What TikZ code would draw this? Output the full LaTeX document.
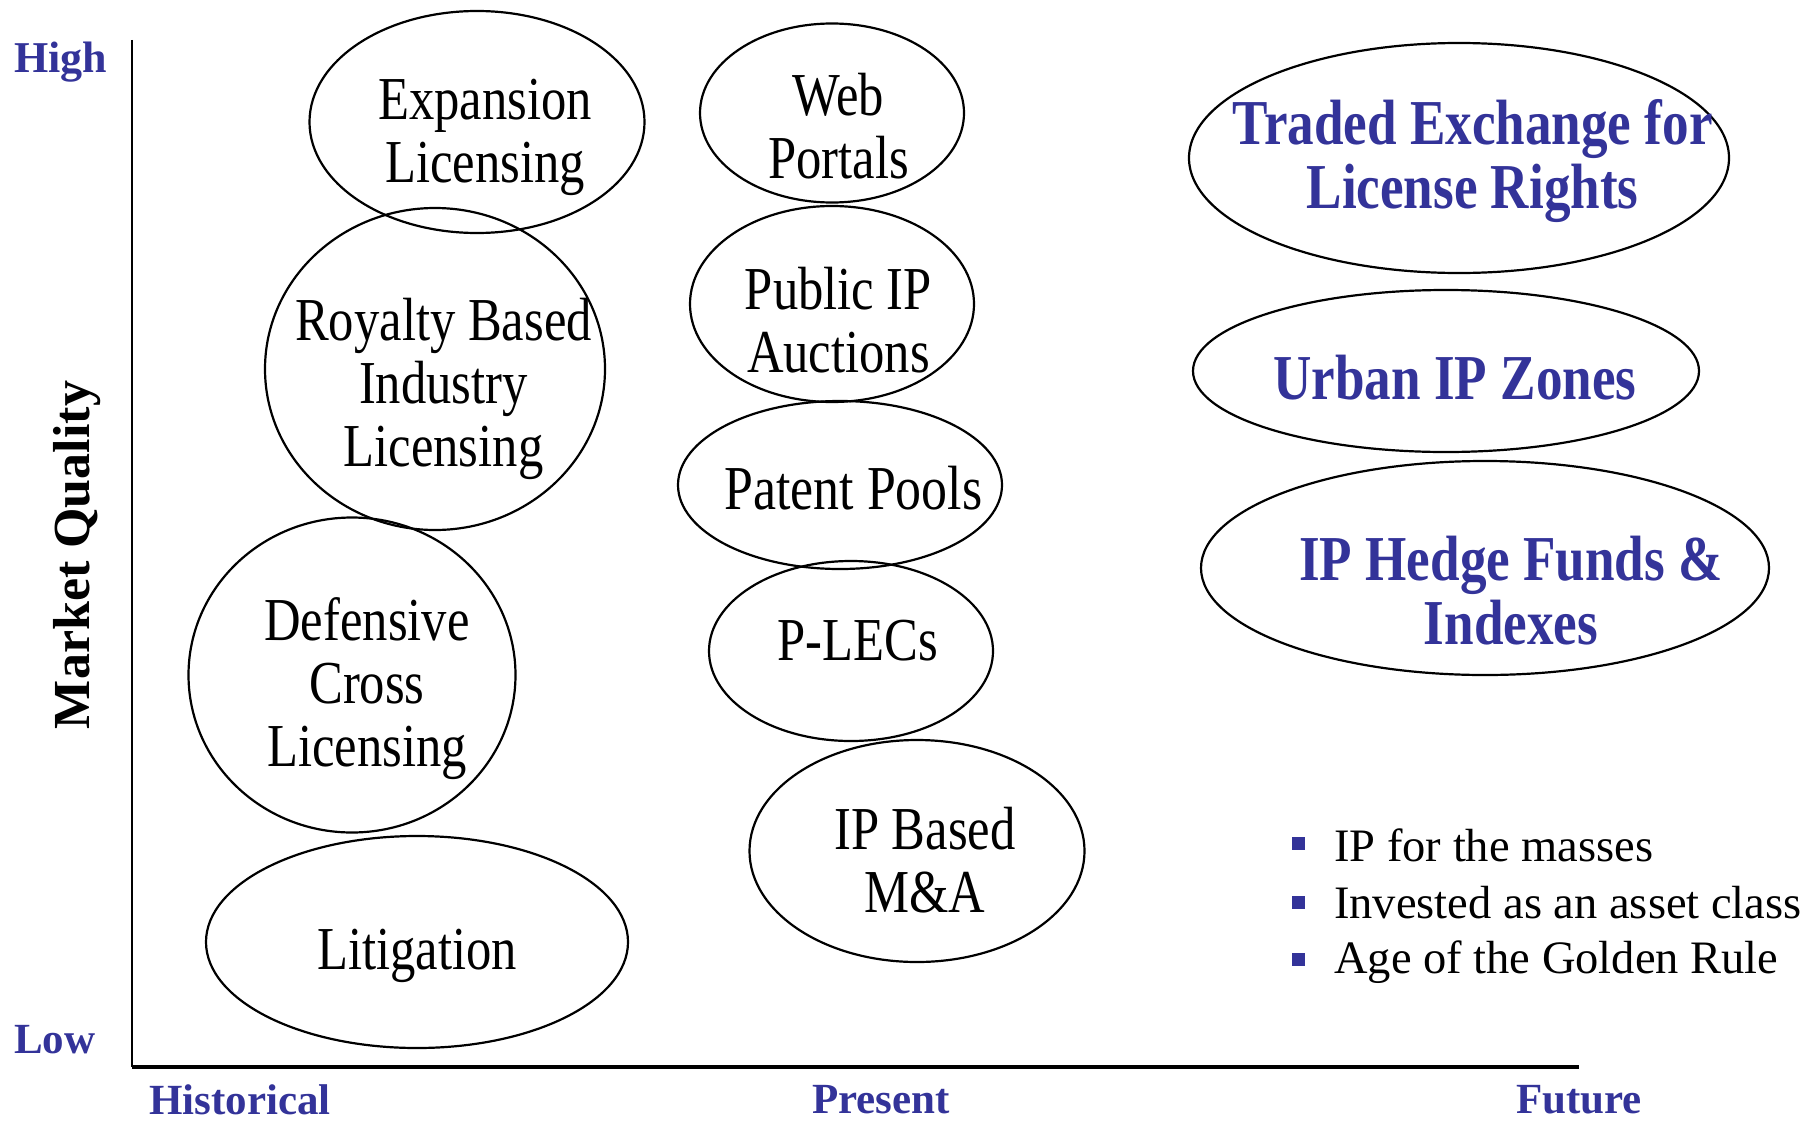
\documentclass[tikz,border=0pt]{standalone}
\usepackage{fontspec}
\setmainfont{Liberation Serif}
\newfontfamily\ellfont{Liberation Serif}[FakeStretch=0.83]
\usetikzlibrary{shapes.geometric}
\definecolor{iblue}{RGB}{51,51,153}
\tikzset{
  ell/.style={draw, ellipse, line width=2.2pt, inner sep=0pt},
  lab/.style={align=center, inner sep=0pt, font=\ellfont\fontsize{61}{63}\selectfont},
  blab/.style={align=center, inner sep=0pt, text=iblue, font=\ellfont\bfseries\fontsize{64}{64}\selectfont},
  axlab/.style={inner sep=0pt, text=iblue, font=\bfseries\fontsize{43}{43}\selectfont},
  bsq/.style={fill=iblue, minimum size=13pt, inner sep=0pt},
  btxt/.style={anchor=west, inner sep=0pt, font=\fontsize{46.5}{46.5}\selectfont}
}
\begin{document}
\begin{tikzpicture}[x=1pt,y=-1pt]
\useasboundingbox (0,0) rectangle (1811,1124);
% axes
\coordinate (otop) at (131.7,40);
\coordinate (orig) at (131.7,1067);
\coordinate (xend) at (1579,1067);
\draw[line width=2pt] (otop) -- (orig);
\draw[line width=3.5pt] (orig) -- (xend);
% axis labels
\node[axlab, anchor=west, font=\bfseries\fontsize{44}{44}\selectfont] (high) at (14,62) {High};
\node[axlab, anchor=west] (low) at (14,1040) {Low};
\node[axlab] (hist) at (240,1100) {Historical};
\node[axlab] (pres) at (881,1100) {Present};
\node[axlab] (fut) at (1579,1100) {Future};
\node[inner sep=0pt, rotate=90, font=\bfseries\fontsize{52}{52}\selectfont] (mq) at (77,555) {Market Quality};
% ellipses
\node[ell, minimum width=335pt, minimum height=222pt] (e1) at (477,122) {};
\node[ell, minimum width=340pt, minimum height=322pt] (e2) at (435,369) {};
\node[ell, minimum width=327pt, minimum height=315pt] (e3) at (352,675) {};
\node[ell, minimum width=422pt, minimum height=212pt] (e4) at (417,942) {};
\node[ell, minimum width=264pt, minimum height=179pt] (e5) at (832,113) {};
\node[ell, minimum width=284pt, minimum height=196pt] (e6) at (832,304) {};
\node[ell, minimum width=324pt, minimum height=168pt] (e7) at (840,485) {};
\node[ell, minimum width=284pt, minimum height=180pt] (e8) at (851,651) {};
\node[ell, minimum width=335pt, minimum height=222pt] (e9) at (917,851) {};
\node[ell, minimum width=540pt, minimum height=230pt] (e10) at (1459,158) {};
\node[ell, minimum width=506pt, minimum height=162pt] (e11) at (1446,371) {};
\node[ell, minimum width=568pt, minimum height=214pt] (e12) at (1485,568) {};
% texts
\node[lab] (t1) at (485,137) {Expansion\\Licensing};
\node[lab] (t2) at (443.5,389) {Royalty Based\\Industry\\Licensing};
\node[lab] (t3) at (367,689) {Defensive\\Cross\\Licensing};
\node[lab] (t4) at (417,956) {Litigation};
\node[lab] (t5) at (838.5,126) {Web\\Portals};
\node[lab] (t6) at (838.5,320) {Public IP\\Auctions};
\node[lab, font=\ellfont\fontsize{62.5}{63}\selectfont] (t7) at (853.5,488) {Patent Pools};
\node[lab] (t8) at (858,641) {P-LECs};
\node[lab] (t9) at (925,860) {IP Based\\M\&A};
\node[blab] (t10) at (1472.6,161) {Traded Exchange for\\License Rights};
\node[blab] (t11) at (1455,378) {Urban IP Zones};
\node[blab] (t12) at (1511,591) {IP Hedge Funds \&\\Indexes};
% bullets
\node[bsq] (b1) at (1298,843) {};
\node[bsq] (b2) at (1298,902) {};
\node[bsq] (b3) at (1298,959) {};
\node[btxt] (bt1) at (1334,845) {IP for the masses};
\node[btxt] (bt2) at (1334,903) {Invested as an asset class};
\node[btxt] (bt3) at (1334,962) {Age of the Golden Rule};
\end{tikzpicture}
\end{document}
